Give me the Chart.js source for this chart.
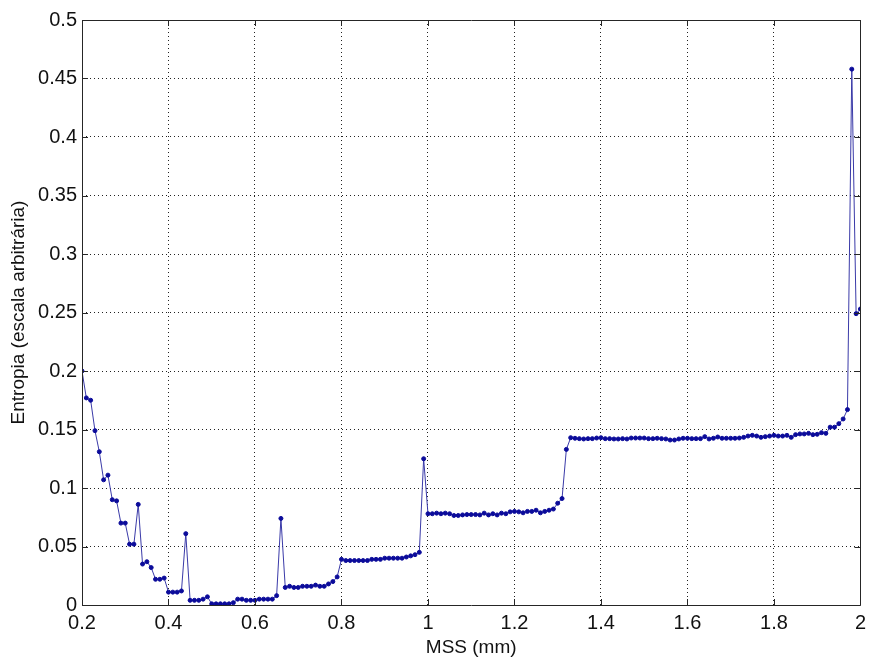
<!DOCTYPE html>
<html>
<head>
<meta charset="utf-8">
<script src="https://cdn.jsdelivr.net/npm/chart.js@4.4.0/dist/chart.umd.min.js"></script>
<style>
  html, body { margin: 0; padding: 0; background: #fff; }
  #wrap { width: 872px; height: 661px; }
</style>
</head>
<body>
<div id="wrap"><canvas id="c1"></canvas></div>
<script>
// MSS (mm)
var mss = [
  0.20,0.21,0.22,0.23,0.24,0.25,0.26,0.27,0.28,0.29,
  0.30,0.31,0.32,0.33,0.34,0.35,0.36,0.37,0.38,0.39,
  0.40,0.41,0.42,0.43,0.44,0.45,0.46,0.47,0.48,0.49,
  0.50,0.51,0.52,0.53,0.54,0.55,0.56,0.57,0.58,0.59,
  0.60,0.61,0.62,0.63,0.64,0.65,0.66,0.67,0.68,0.69,
  0.70,0.71,0.72,0.73,0.74,0.75,0.76,0.77,0.78,0.79,
  0.80,0.81,0.82,0.83,0.84,0.85,0.86,0.87,0.88,0.89,
  0.90,0.91,0.92,0.93,0.94,0.95,0.96,0.97,0.98,0.99,
  1.00,1.01,1.02,1.03,1.04,1.05,1.06,1.07,1.08,1.09,
  1.10,1.11,1.12,1.13,1.14,1.15,1.16,1.17,1.18,1.19,
  1.20,1.21,1.22,1.23,1.24,1.25,1.26,1.27,1.28,1.29,
  1.30,1.31,1.32,1.33,1.34,1.35,1.36,1.37,1.38,1.39,
  1.40,1.41,1.42,1.43,1.44,1.45,1.46,1.47,1.48,1.49,
  1.50,1.51,1.52,1.53,1.54,1.55,1.56,1.57,1.58,1.59,
  1.60,1.61,1.62,1.63,1.64,1.65,1.66,1.67,1.68,1.69,
  1.70,1.71,1.72,1.73,1.74,1.75,1.76,1.77,1.78,1.79,
  1.80,1.81,1.82,1.83,1.84,1.85,1.86,1.87,1.88,1.89,
  1.90,1.91,1.92,1.93,1.94,1.95,1.96,1.97,1.98,1.99,
  2.00
];

// Entropia (escala arbitraria)
var entropia = [
  0.200,0.177,0.175,0.149,0.131,0.107,0.111,0.090,0.089,0.070,
  0.070,0.052,0.052,0.086,0.035,0.037,0.032,0.022,0.022,0.023,
  0.011,0.011,0.011,0.012,0.061,0.004,0.004,0.004,0.005,0.007,
  0.001,0.001,0.001,0.001,0.001,0.002,0.005,0.005,0.004,0.004,
  0.004,0.005,0.005,0.005,0.005,0.008,0.074,0.015,0.016,0.015,
  0.015,0.016,0.016,0.016,0.017,0.016,0.016,0.018,0.020,0.024,
  0.039,0.038,0.038,0.038,0.038,0.038,0.038,0.039,0.039,0.039,
  0.040,0.040,0.040,0.040,0.040,0.041,0.042,0.043,0.045,0.125,
  0.078,0.078,0.0785,0.078,0.0785,0.078,0.0765,0.0765,0.077,0.0773,
  0.0773,0.0773,0.077,0.0785,0.077,0.078,0.077,0.0785,0.078,0.0796,
  0.080,0.0796,0.0788,0.080,0.080,0.081,0.0788,0.080,0.081,0.082,
  0.087,0.091,0.133,0.143,0.1425,0.1422,0.1419,0.1422,0.1422,0.1427,
  0.1430,0.1422,0.1422,0.1419,0.1419,0.1422,0.1419,0.1427,0.1427,0.1427,
  0.1427,0.1422,0.1422,0.1425,0.1422,0.1419,0.1410,0.1410,0.1419,0.1425,
  0.1425,0.1422,0.1422,0.1422,0.1439,0.1419,0.1425,0.1436,0.1425,0.1425,
  0.1425,0.1425,0.1427,0.1433,0.1444,0.1450,0.1444,0.1433,0.1439,0.1444,
  0.1450,0.1444,0.1444,0.1450,0.1433,0.1456,0.1462,0.1462,0.1467,0.1456,
  0.1459,0.1473,0.1467,0.152,0.152,0.155,0.159,0.167,0.458,0.249,
  0.253
];

var xTicks = [0.2,0.4,0.6,0.8,1,1.2,1.4,1.6,1.8,2];
var yTicks = [0,0.05,0.1,0.15,0.2,0.25,0.3,0.35,0.4,0.45,0.5];

var pts = [];
for (var i = 0; i < mss.length; i++) {
  pts.push({x: mss[i], y: entropia[i]});
}

// box round the plot + inward ticks, matlab style
var boxPlugin = {
  id: 'box',
  afterDraw: function(chart) {
    var a = chart.chartArea, ctx = chart.ctx;
    var sx = chart.scales.x, sy = chart.scales.y;
    ctx.save();
    ctx.strokeStyle = '#262626';
    ctx.lineWidth = 1;
    ctx.beginPath();
    ctx.rect(Math.round(a.left) + 0.5, Math.round(a.top) + 0.5,
             Math.round(a.right - a.left), Math.round(a.bottom - a.top));
    ctx.stroke();
    ctx.beginPath();
    xTicks.forEach(function(v) {
      var px = Math.round(sx.getPixelForValue(v)) + 0.5;
      ctx.moveTo(px, a.bottom); ctx.lineTo(px, a.bottom - 6);
      ctx.moveTo(px, a.top); ctx.lineTo(px, a.top + 6);
    });
    yTicks.forEach(function(v) {
      var py = Math.round(sy.getPixelForValue(v)) + 0.5;
      ctx.moveTo(a.left, py); ctx.lineTo(a.left + 6, py);
      ctx.moveTo(a.right, py); ctx.lineTo(a.right - 6, py);
    });
    ctx.stroke();
    ctx.restore();
  }
};

var ctx = document.getElementById('c1').getContext('2d');
var chart1 = new Chart(ctx, {
  type: 'line',
  data: {
    datasets: [{
      label: 'Entropia',
      data: pts,
      borderColor: '#3a3aa8',
      borderWidth: 1,
      pointRadius: 2,
      pointBackgroundColor: '#0b0b9a',
      pointBorderColor: '#0b0b9a',
      pointBorderWidth: 1,
      tension: 0,
      fill: false
    }]
  },
  options: {
    responsive: true,
    maintainAspectRatio: false,
    animation: false,
    layout: { padding: { left: 0, right: 9, top: 20, bottom: 0 } },
    plugins: { legend: { display: false }, tooltip: { enabled: false } },
    scales: {
      x: {
        type: 'linear',
        min: 0.2, max: 2,
        afterBuildTicks: function(s) { s.ticks = xTicks.map(function(v) { return {value: v}; }); },
        afterFit: function(s) { s.height = 56; },
        grid: { color: '#222', drawTicks: false, lineWidth: 1 },
        border: { display: false, dash: [1, 3] },
        ticks: {
          color: '#111', padding: 6, maxRotation: 0,
          font: { family: 'Liberation Sans', size: 20 },
          callback: function(v) { return String(+v.toFixed(1)); }
        },
        title: {
          display: true, text: 'MSS (mm)', color: '#111', padding: { top: 0, bottom: 2 },
          font: { family: 'Liberation Sans', size: 19 }
        }
      },
      y: {
        min: 0, max: 0.5,
        afterBuildTicks: function(s) { s.ticks = yTicks.map(function(v) { return {value: v}; }); },
        afterFit: function(s) { s.width = 82; },
        grid: { color: '#222', drawTicks: false, lineWidth: 1 },
        border: { display: false, dash: [1, 3] },
        ticks: {
          color: '#111', padding: 5,
          font: { family: 'Liberation Sans', size: 20 },
          callback: function(v) { return String(+v.toFixed(2)); }
        },
        title: {
          display: true, text: 'Entropia (escala arbitrária)', color: '#111', padding: { top: 7, bottom: 2 },
          font: { family: 'Liberation Sans', size: 19 }
        }
      }
    }
  },
  plugins: [boxPlugin]
});
</script>
</body>
</html>
